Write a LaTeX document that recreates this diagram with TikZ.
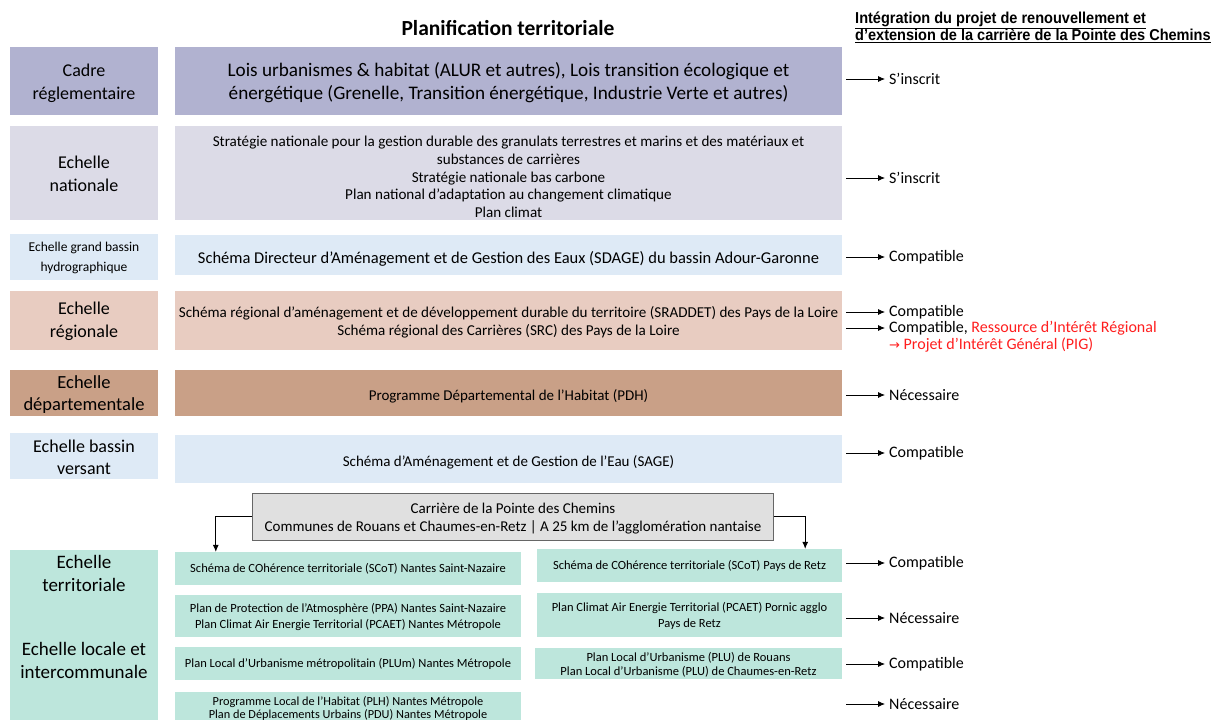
\documentclass[tikz,border=0pt]{standalone}
\usepackage{fontspec}
\setmainfont{Carlito}
\newfontfamily\narrowfont[FakeStretch=0.92]{Liberation Sans}
\newfontfamily\dejavu{DejaVu Sans}
\usetikzlibrary{arrows.meta,calc}
\definecolor{cReg}{RGB}{177,178,208}
\definecolor{cNat}{RGB}{220,219,231}
\definecolor{cBlue}{RGB}{222,234,246}
\definecolor{cRegio}{RGB}{232,204,193}
\definecolor{cDep}{RGB}{201,160,135}
\definecolor{cGreen}{RGB}{189,230,220}
\definecolor{cGray}{RGB}{224,224,224}
\definecolor{cRed}{RGB}{255,30,30}
\tikzset{
  box/.style={rectangle, inner sep=1pt, align=center, text=black, draw=none},
  lbox/.style={box, minimum width=148pt},
  mbox/.style={box, minimum width=667pt},
  txt/.style={inner sep=0pt, align=center, text=black},
  lab/.style={anchor=west, inner sep=0pt, text=black, font=\fontsize{16}{19}\selectfont},
  arr/.style={-{Latex[length=7pt,width=6pt]}, line width=0.8pt, shorten >=4pt, shorten <=4pt},
  conn/.style={-{Latex[length=7pt,width=6pt]}, line width=0.8pt},
}
\begin{document}
\begin{tikzpicture}[x=1pt,y=-1pt]
\useasboundingbox (0,0) rectangle (1213,720);

% title and header
\node[txt, font=\fontsize{21.5}{24}\selectfont\bfseries] (title) at (508,28) {Planification territoriale};
\node[txt, anchor=north west, align=left, font=\narrowfont\bfseries\fontsize{15.8}{17}\selectfont] (head) at (855,12)
  {\underline{Intégration du projet de renouvellement et}\\\underline{d’extension de la carrière de la Pointe des Chemins}};

% row 1
\node[lbox, fill=cReg, minimum height=68pt] (l1) at (84,81) {};
\node[txt, font=\fontsize{18}{23}\selectfont] (l1t) at (84,83) {Cadre\\réglementaire};
\node[mbox, fill=cReg, minimum height=68pt] (m1) at (508.5,81) {};
\node[txt, font=\fontsize{19.2}{23}\selectfont] (m1t) at (508.5,83)
  {Lois urbanismes \& habitat (ALUR et autres), Lois transition écologique et\\énergétique (Grenelle, Transition énergétique, Industrie Verte et autres)};

% row 2
\node[lbox, fill=cNat, minimum height=94pt] (l2) at (84,173) {};
\node[txt, font=\fontsize{18}{23}\selectfont] (l2t) at (84,174) {Echelle\\nationale};
\node[mbox, fill=cNat, minimum height=94pt] (m2) at (508.5,173) {};
\node[txt, font=\fontsize{15.1}{17.6}\selectfont] (m2t) at (508.5,177)
  {Stratégie nationale pour la gestion durable des granulats terrestres et marins et des matériaux et\\substances de carrières\\Stratégie nationale bas carbone\\Plan national d’adaptation au changement climatique\\Plan climat};

% row 3
\node[lbox, fill=cBlue, minimum height=46pt] (l3) at (84,257) {};
\node[txt, font=\fontsize{13.5}{20}\selectfont] (l3t) at (84,257.5) {Echelle grand bassin\\hydrographique};
\node[mbox, fill=cBlue, minimum height=40pt] (m3) at (508.5,255) {};
\node[txt, font=\fontsize{16.5}{20}\selectfont] (m3t) at (508.5,258.5)
  {Schéma Directeur d’Aménagement et de Gestion des Eaux (SDAGE) du bassin Adour-Garonne};

% row 4
\node[lbox, fill=cRegio, minimum height=59pt] (l4) at (84,320.5) {};
\node[txt, font=\fontsize{18}{23}\selectfont] (l4t) at (84,321.5) {Echelle\\régionale};
\node[mbox, fill=cRegio, minimum height=59pt] (m4) at (508.5,320.5) {};
\node[txt, font=\fontsize{15.1}{18}\selectfont] (m4t) at (508.5,322.5)
  {Schéma régional d'aménagement et de développement durable du territoire (SRADDET) des Pays de la Loire\\Schéma régional des Carrières (SRC) des Pays de la Loire};

% row 5
\node[lbox, fill=cDep, minimum height=46pt] (l5) at (84,393) {};
\node[txt, font=\fontsize{18.5}{22}\selectfont] (l5t) at (84,395) {Echelle\\départementale};
\node[mbox, fill=cDep, minimum height=46pt] (m5) at (508.5,393) {};
\node[txt, font=\fontsize{15}{18}\selectfont] (m5t) at (508.5,396)
  {Programme Départemental de l’Habitat (PDH)};

% row 6
\node[lbox, fill=cBlue, minimum height=46pt] (l6) at (84,456) {};
\node[txt, font=\fontsize{18}{22}\selectfont] (l6t) at (84,457) {Echelle bassin\\versant};
\node[mbox, fill=cBlue, minimum height=48pt] (m6) at (508.5,459) {};
\node[txt, font=\fontsize{15}{18}\selectfont] (m6t) at (508.5,462)
  {Schéma d’Aménagement et de Gestion de l’Eau (SAGE)};

% quarry box
\node[box, fill=cGray, draw=gray!80!black, line width=0.6pt, minimum width=521pt, minimum height=47pt] (q) at (513,516.5) {};
\node[txt, font=\fontsize{15}{18}\selectfont] (qt) at (513,518.5)
  {Carrière de la Pointe des Chemins\\Communes de Rouans et Chaumes-en-Retz | A 25 km de l’agglomération nantaise};

% green left column
\node[lbox, fill=cGreen, minimum height=170pt] (lg) at (84,635) {};
\node[txt, font=\fontsize{19}{23}\selectfont] (lgt) at (84,573) {Echelle\\territoriale};
\node[txt, font=\fontsize{19}{23}\selectfont] (lgl) at (84,660) {Echelle locale et\\intercommunale};

% column A
\node[box, fill=cGreen, minimum width=346pt, minimum height=33pt, font=\fontsize{12.5}{16}\selectfont] (a1) at (348,568.5)
  {Schéma de COhérence territoriale (SCoT) Nantes Saint-Nazaire};
\node[box, fill=cGreen, minimum width=346pt, minimum height=42pt] (a2) at (348,616) {};
\node[txt, font=\fontsize{12.5}{16}\selectfont] (a2t) at (348,617)
  {Plan de Protection de l’Atmosphère (PPA) Nantes Saint-Nazaire\\Plan Climat Air Energie Territorial (PCAET) Nantes Métropole};
\node[box, fill=cGreen, minimum width=346pt, minimum height=33pt, font=\fontsize{12.5}{16}\selectfont] (a3) at (348,663.5)
  {Plan Local d’Urbanisme métropolitain (PLUm) Nantes Métropole};
\node[box, fill=cGreen, minimum width=346pt, minimum height=37pt] (a4) at (348,710.5) {};
\node[txt, font=\fontsize{12.3}{13}\selectfont] (a4t) at (348,708)
  {Programme Local de l’Habitat (PLH) Nantes Métropole\\Plan de Déplacements Urbains (PDU) Nantes Métropole};

% column B
\node[box, fill=cGreen, minimum width=305pt, minimum height=33pt, font=\fontsize{12.5}{16}\selectfont] (b1) at (689.5,565.5)
  {Schéma de COhérence territoriale (SCoT) Pays de Retz};
\node[box, fill=cGreen, minimum width=305pt, minimum height=44pt] (b2) at (689.5,615) {};
\node[txt, font=\fontsize{12.5}{16}\selectfont] (b2t) at (689.5,616)
  {Plan Climat Air Energie Territorial (PCAET) Pornic agglo\\Pays de Retz};
\node[box, fill=cGreen, minimum width=307pt, minimum height=31pt] (b3) at (688.5,663.5) {};
\node[txt, font=\fontsize{12.5}{14}\selectfont] (b3t) at (688.5,664.5)
  {Plan Local d’Urbanisme (PLU) de Rouans\\Plan Local d’Urbanisme (PLU) de Chaumes-en-Retz};

% connectors from the quarry box
\draw[conn] (q.west) -| ([xshift=41pt]a1.north west);
\draw[conn] (q.east) -| ([xshift=-37pt]b1.north east);

% right-hand labels
\node[lab] (r1) at (889,79) {S’inscrit};
\node[lab] (r2) at (889,178) {S’inscrit};
\node[lab] (r3) at (889,257) {Compatible};
\node[lab] (r4a) at (889,312) {Compatible};
\node[lab] (r4b) at (889,328) {Compatible, \textcolor{cRed}{Ressource d’Intérêt Régional}};
\node[lab, text=cRed] (r4c) at (889,345) {{\dejavu\fontsize{13}{16}\selectfont →} Projet d’Intérêt Général (PIG)};
\node[lab] (r5) at (889,395) {Nécessaire};
\node[lab] (r6) at (889,453) {Compatible};
\node[lab] (r7) at (889,563) {Compatible};
\node[lab] (r8) at (889,618) {Nécessaire};
\node[lab] (r9) at (889,664) {Compatible};
\node[lab] (r10) at (889,704) {Nécessaire};
\coordinate (s10) at (846,704);

\draw[arr] (m1.east |- r1.west) -- (r1.west);
\draw[arr] (m2.east |- r2.west) -- (r2.west);
\draw[arr] (m3.east |- r3.west) -- (r3.west);
\draw[arr] (m4.east |- r4a.west) -- (r4a.west);
\draw[arr] (m4.east |- r4b.west) -- (r4b.west);
\draw[arr] (m5.east |- r5.west) -- (r5.west);
\draw[arr] (m6.east |- r6.west) -- (r6.west);
\draw[arr] (b1.east |- r7.west) -- (r7.west);
\draw[arr] (b2.east |- r8.west) -- (r8.west);
\draw[arr] (b3.east |- r9.west) -- (r9.west);
\draw[arr, shorten <=0pt] (s10) -- (r10.west);
\end{tikzpicture}
\end{document}
